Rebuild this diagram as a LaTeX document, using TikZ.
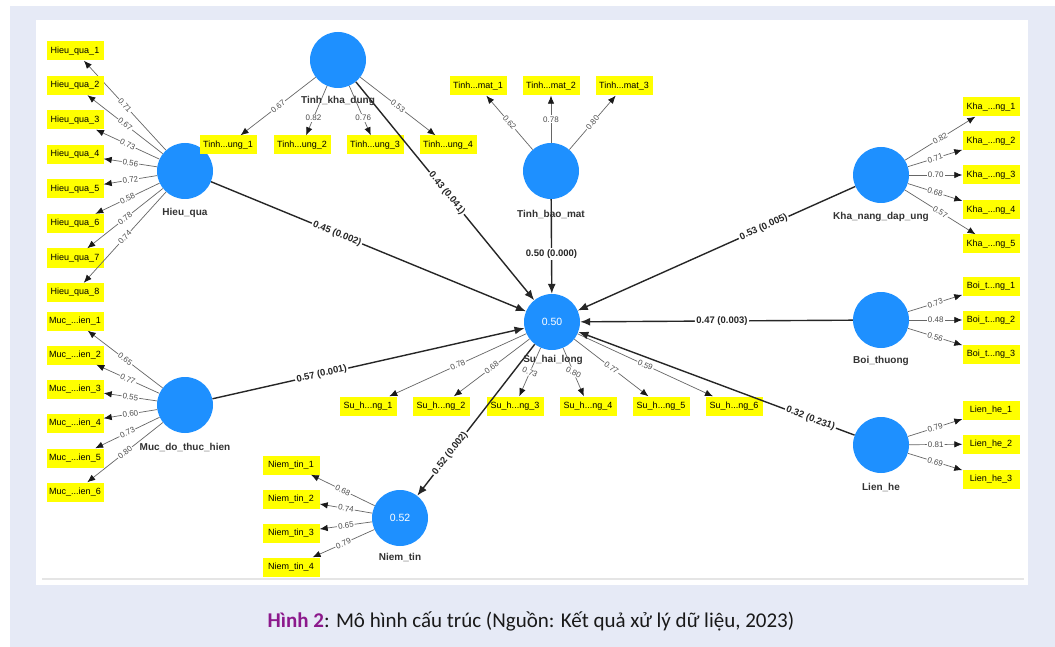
\documentclass[tikz,border=0pt]{standalone}
\usepackage{fontspec}
\setmainfont{Liberation Sans}
\newfontfamily\capfont{Carlito}
\usetikzlibrary{arrows.meta,positioning}
\definecolor{plsblue}{RGB}{30,144,255}
\definecolor{plsyellow}{RGB}{255,255,0}
\definecolor{pagebg}{RGB}{230,234,246}
\definecolor{capmag}{RGB}{140,25,140}
\tikzset{>={Latex[length=10pt,width=8pt]}}
\tikzset{lv/.style={circle, fill=plsblue, minimum size=56pt, inner sep=0pt, text=white, font=\fontsize{10.5}{12}\selectfont}}
\tikzset{ind/.style={fill=plsyellow, minimum width=57pt, minimum height=19pt, inner sep=0pt, font=\fontsize{9}{10}\selectfont}}
\tikzset{lvname/.style={font=\bfseries\fontsize{10}{12}\selectfont, text=black!80}}
\tikzset{pth/.style={->, line width=1.4pt, draw=black!85}}
\tikzset{load/.style={-{Latex[length=8pt,width=6.5pt,color=black!90]}, line width=0.7pt, draw=black!60}}
\tikzset{coefflat/.style={fill=white, inner sep=1.5pt, font=\bfseries\fontsize{9.5}{11}\selectfont, text=black!85}}
\tikzset{coef/.style={coefflat, sloped}}
\tikzset{ldflat/.style={fill=white, inner sep=1pt, font=\fontsize{8}{9}\selectfont, text=black!70}}
\tikzset{ld/.style={ldflat, sloped}}
\tikzset{ldlow/.style={ldflat, pos=0.65}}
\tikzset{ldtilt/.style={ldflat, rotate=-25}}

\begin{document}
\begin{tikzpicture}[x=1pt,y=-1pt]
  \useasboundingbox (0,0) rectangle (1055,647);
  % page and panel
  \fill[pagebg] (10,6) rectangle (1055,647);
  \fill[white] (36,20) rectangle (1028,585);
  \draw[black!10, line width=1.2pt] (42,579) -- (1024,579);

  % latent variables
  \node[lv] (hq) at (185,171) {};
  \node[lv] (tkd) at (338,60) {};
  \node[lv] (tbm) at (551,171) {};
  \node[lv] (shl) at (552,322) {0.50};
  \node[lv] (knd) at (881,175) {};
  \node[lv] (bt) at (881,320) {};
  \node[lv] (lh) at (881,445) {};
  \node[lv] (mdt) at (185,405) {};
  \node[lv] (nt) at (400,518) {0.52};

  % indicators and loadings
  \foreach \i/\y/\v in {1/51/0.71,2/85.5/0.67,3/120/0.73,4/154.5/0.56,5/189/0.72,6/223.5/0.58,7/258/0.78,8/292.5/0.74}{
    \node[ind] (hq\i) at (75,\y) {Hieu\_qua\_\i};
    \draw[load] (hq) -- node[ld]{\v} (hq\i);
  }
  \foreach \i/\y/\v in {1/321/0.65,2/355/0.77,3/389/0.55,4/423/0.60,5/458/0.73,6/492/0.80}{
    \node[ind] (mdt\i) at (75,\y) {Muc\_...ien\_\i};
    \draw[load] (mdt) -- node[ld]{\v} (mdt\i);
  }
  \foreach \i/\x/\v/\s in {1/228/0.67/ld,2/302/0.82/ldlow,3/375/0.76/ldlow,4/448/0.53/ld}{
    \node[ind] (tkd\i) at (\x,145) {Tinh...ung\_\i};
    \draw[load] (tkd) -- node[\s]{\v} (tkd\i);
  }
  \foreach \i/\x/\v/\s in {1/478/0.62/ld,2/551/0.78/ldflat,3/624/0.80/ld}{
    \node[ind] (tbm\i) at (\x,86) {Tinh...mat\_\i};
    \draw[load] (tbm) -- node[\s]{\v} (tbm\i);
  }
  \foreach \i/\y/\v in {1/107/0.82,2/141/0.71,3/175/0.70,4/210/0.68,5/244/0.57}{
    \node[ind] (knd\i) at (991,\y) {Kha\_...ng\_\i};
    \draw[load] (knd) -- node[ld]{\v} (knd\i);
  }
  \foreach \i/\y/\v in {1/286/0.73,2/320/0.48,3/354/0.56}{
    \node[ind] (bt\i) at (991,\y) {Boi\_t...ng\_\i};
    \draw[load] (bt) -- node[ld]{\v} (bt\i);
  }
  \foreach \i/\y/\v in {1/410/0.79,2/444/0.81,3/479/0.69}{
    \node[ind] (lh\i) at (991,\y) {Lien\_he\_\i};
    \draw[load] (lh) -- node[ld]{\v} (lh\i);
  }
  \foreach \i/\x/\v/\s in {1/368/0.78/ld,2/441/0.68/ld,3/515/0.73/ldtilt,4/588/0.80/ldtilt,5/661/0.77/ld,6/734/0.59/ld}{
    \node[ind] (shl\i) at (\x,406) {Su\_h...ng\_\i};
    \draw[load] (shl) -- node[\s]{\v} (shl\i);
  }
  \foreach \i/\y/\v in {1/465/0.68,2/499/0.74,3/533/0.65,4/567/0.79}{
    \node[ind] (nt\i) at (291,\y) {Niem\_tin\_\i};
    \draw[load] (nt) -- node[ld]{\v} (nt\i);
  }

  % structural paths
  \draw[pth] (hq) -- node[coef,pos=0.4]{0.45 (0.002)} (shl);
  \draw[pth] (tkd) -- node[coef,pos=0.51]{0.43 (0.041)} (shl);
  \draw[pth] (tbm) -- node[coefflat,pos=0.58]{0.50 (0.000)} (shl);
  \draw[pth] (knd) -- node[coef,pos=0.33]{0.53 (0.005)} (shl);
  \draw[pth] (bt) -- node[coef,pos=0.48]{0.47 (0.003)} (shl);
  \draw[pth] (lh) -- node[coef,pos=0.16]{0.32 (0.231)} (shl);
  \draw[pth] (mdt) -- node[coef,pos=0.35]{0.57 (0.001)} (shl);
  \draw[pth] (shl) -- node[coef,pos=0.72]{0.52 (0.002)} (nt);

  % construct names
  \node[lvname] (hqn) at (185,213) {Hieu\_qua};
  \node[lvname] (tkdn) at (338,101) {Tinh\_kha\_dung};
  \node[lvname] (tbmn) at (551,214) {Tinh\_bao\_mat};
  \node[lvname] (shln) at (553,360) {Su\_hai\_long};
  \node[lvname] (kndn) at (881,217) {Kha\_nang\_dap\_ung};
  \node[lvname] (btn) at (881,361) {Boi\_thuong};
  \node[lvname] (lhn) at (881,487) {Lien\_he};
  \node[lvname] (mdtn) at (185,447) {Muc\_do\_thuc\_hien};
  \node[lvname] (ntn) at (400,557) {Niem\_tin};

  % caption
  \node[font=\capfont\fontsize{21}{24}\selectfont, text=black!90] (cap) at (531,621)
    {\textcolor{capmag}{\bfseries Hình 2}: Mô hình cấu trúc (Nguồn: Kết quả xử lý dữ liệu, 2023)};
\end{tikzpicture}
\end{document}
